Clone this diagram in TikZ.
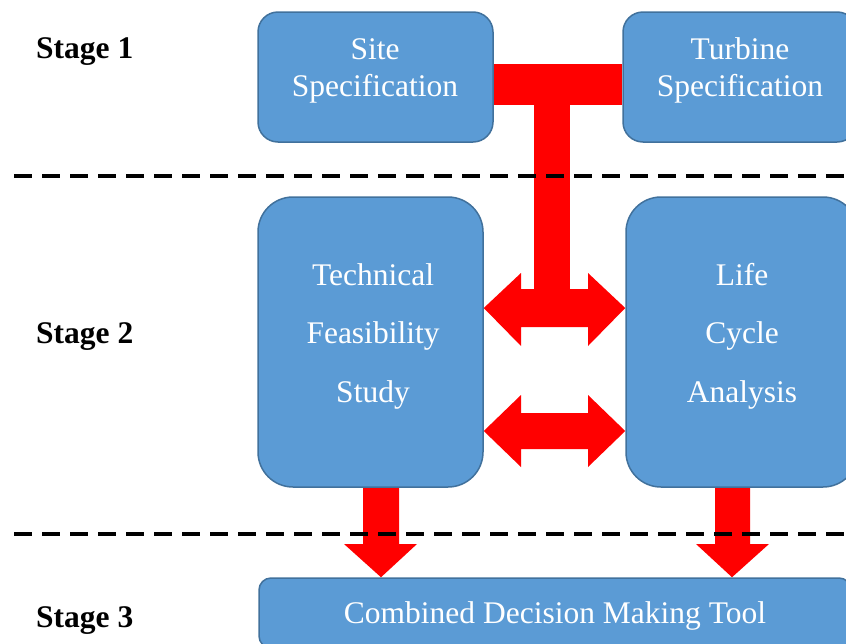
\documentclass[tikz,border=0pt]{standalone}
\usepackage{fontspec}
\setmainfont{Liberation Serif}
\usetikzlibrary{backgrounds}
\definecolor{boxfill}{HTML}{5B9BD5}
\definecolor{boxline}{HTML}{41719C}
\definecolor{arrred}{HTML}{FF0000}
\begin{document}
\begin{tikzpicture}[x=1pt,y=-1pt,
  box/.style={draw=boxline, line width=1.5pt, fill=boxfill, rectangle, inner sep=0pt},
  wtext/.style={text=white, font=\fontsize{31.5}{37}\selectfont, align=center, anchor=base, inner sep=0pt},
  wtextwide/.style={wtext, font=\fontsize{31.5}{58.5}\selectfont},
  stage/.style={font=\fontsize{31.5}{37}\selectfont\bfseries, anchor=base west, inner sep=0pt},
  sep/.style={line width=4.5pt, dash pattern=on 18pt off 10pt},
  arr/.style={fill=arrred, draw=none}]
\useasboundingbox (0,0) rectangle (846,643);

% boxes
\node[box, minimum width=235pt, minimum height=130pt, rounded corners=20pt] (site) at (375.5,77) {};
\node[box, minimum width=234pt, minimum height=130pt, rounded corners=20pt] (turb) at (740,77) {};
\node[box, minimum width=225pt, minimum height=290pt, rounded corners=35pt] (tfs) at (370.5,342) {};
\node[box, minimum width=232pt, minimum height=290pt, rounded corners=35pt] (lca) at (742,342) {};
\node[box, minimum width=592pt, minimum height=70pt, rounded corners=12pt] (cdm) at (555,613) {};

% box texts (anchored at the baseline of the last line)
\node[wtext] (siteT) at (375,96) {Site\\Specification};
\node[wtext] (turbT) at (740,96) {Turbine\\Specification};
\node[wtextwide] (tfsT) at (373,402) {Technical\\Feasibility\\Study};
\node[wtextwide] (lcaT) at (742,402) {Life\\Cycle\\Analysis};
\node[wtext] (cdmT) at (555,623) {Combined Decision Making Tool};

% stage labels
\node[stage] (s1) at (36,58) {Stage 1};
\node[stage] (s2) at (36,343) {Stage 2};
\node[stage] (s3) at (36,627) {Stage 3};

% red block arrows behind the boxes
\begin{pgfonlayer}{background}
  % T bar joining the two specifications
  \fill[arr] (site.east |- 0,64) rectangle (turb.west |- 0,105);
  % stem down to the upper double arrow
  \fill[arr] (534,64) rectangle (570,300);
  % upper double arrow between tfs and lca
  \fill[arr] (tfs.east |- 0,308) -- (521,273) -- (521,289) -- (588,289) -- (588,273)
     -- (lca.west |- 0,308) -- (588,346) -- (588,327) -- (521,327) -- (521,346) -- cycle;
  % lower double arrow
  \fill[arr] (tfs.east |- 0,431) -- (521,395) -- (521,413) -- (588,413) -- (588,395)
     -- (lca.west |- 0,431) -- (588,467) -- (588,449) -- (521,449) -- (521,467) -- cycle;
  % down arrows to the decision tool
  \fill[arr] (363,480) -- (399,480) -- (399,544) -- (417,544) -- (cdm.north -| 381,0)
     -- (344,544) -- (363,544) -- cycle;
  \fill[arr] (715,480) -- (750,480) -- (750,544) -- (769,544) -- (cdm.north -| 732,0)
     -- (696,544) -- (715,544) -- cycle;
\end{pgfonlayer}

% stage separators
\coordinate (d1a) at (14,176);
\coordinate (d1b) at (846,176);
\coordinate (d2a) at (14,534);
\coordinate (d2b) at (846,534);
\draw[sep] (d1a) -- (d1b);
\draw[sep] (d2a) -- (d2b);
\end{tikzpicture}
\end{document}
